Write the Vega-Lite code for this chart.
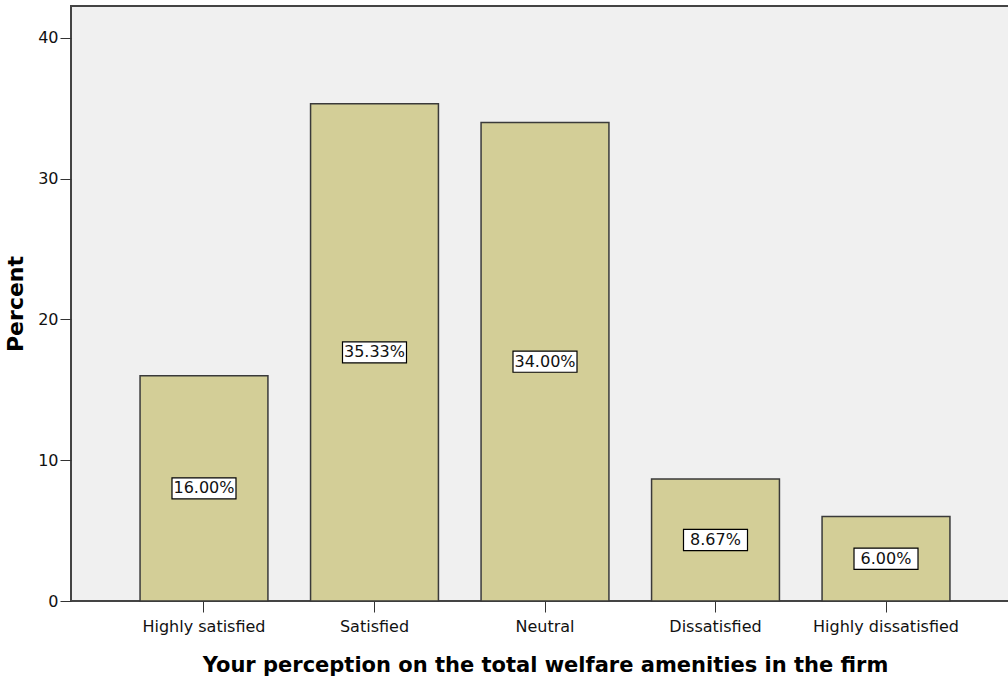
{
  "$schema": "https://vega.github.io/schema/vega-lite/v6.json",
  "autosize": "none",
  "padding": {"left": 71, "top": 6, "right": 0, "bottom": 81},
  "width": 948,
  "height": 595,
  "background": "white",
  "config": {
    "font": "DejaVu Sans",
    "view": {"fill": "#f0f0f0", "stroke": "#444444", "strokeWidth": 2}
  },
  "data": {
    "values": [
      {"category": "Highly satisfied", "percent": 16.00, "label": "16.00%"},
      {"category": "Satisfied", "percent": 35.33, "label": "35.33%"},
      {"category": "Neutral", "percent": 34.00, "label": "34.00%"},
      {"category": "Dissatisfied", "percent": 8.67, "label": "8.67%"},
      {"category": "Highly dissatisfied", "percent": 6.00, "label": "6.00%"}
    ]
  },
  "encoding": {
    "x": {
      "field": "category",
      "type": "nominal",
      "sort": null,
      "scale": {"paddingInner": 0.25, "paddingOuter": 0.405},
      "axis": {
        "title": "Your perception on the total welfare amenities in the firm",
        "titleFont": "DejaVu Sans",
        "titleFontSize": 21,
        "titleFontWeight": "bold",
        "titleColor": "#000000",
        "titlePadding": 20,
        "labelFont": "DejaVu Sans",
        "labelAngle": 0,
        "labelFontSize": 16,
        "labelColor": "#111111",
        "labelPadding": 6,
        "tickSize": 11,
        "tickColor": "#333333",
        "domain": false,
        "grid": false
      }
    }
  },
  "layer": [
    {
      "mark": {"type": "bar", "fill": "#d3ce97", "stroke": "#3a3a3a", "strokeWidth": 1.5},
      "encoding": {
        "y": {
          "field": "percent",
          "type": "quantitative",
          "scale": {"domain": [0, 42.27], "nice": false},
          "axis": {
            "title": "Percent",
            "titleFont": "DejaVu Sans",
            "titleFontSize": 22,
            "titleFontWeight": "bold",
            "titleColor": "#000000",
            "titlePadding": 10,
            "values": [0, 10, 20, 30, 40],
            "labelFont": "DejaVu Sans",
            "labelFontSize": 16,
            "labelColor": "#111111",
            "labelPadding": 2,
            "tickSize": 11,
            "tickColor": "#333333",
            "domain": false,
            "grid": false
          }
        }
      }
    },
    {
      "transform": [{"calculate": "datum.percent / 2", "as": "mid"}],
      "mark": {
        "type": "point",
        "shape": "M-1,-0.33L1,-0.33L1,0.33L-1,0.33Z",
        "size": 4096,
        "filled": true,
        "fill": "white",
        "stroke": "#000000",
        "strokeWidth": 1.2,
        "opacity": 1
      },
      "encoding": {
        "y": {"field": "mid", "type": "quantitative"}
      }
    },
    {
      "transform": [{"calculate": "datum.percent / 2", "as": "mid"}],
      "mark": {"type": "text", "font": "DejaVu Sans", "fontSize": 16, "color": "#111111", "baseline": "middle", "align": "center"},
      "encoding": {
        "y": {"field": "mid", "type": "quantitative"},
        "text": {"field": "label"}
      }
    }
  ]
}
